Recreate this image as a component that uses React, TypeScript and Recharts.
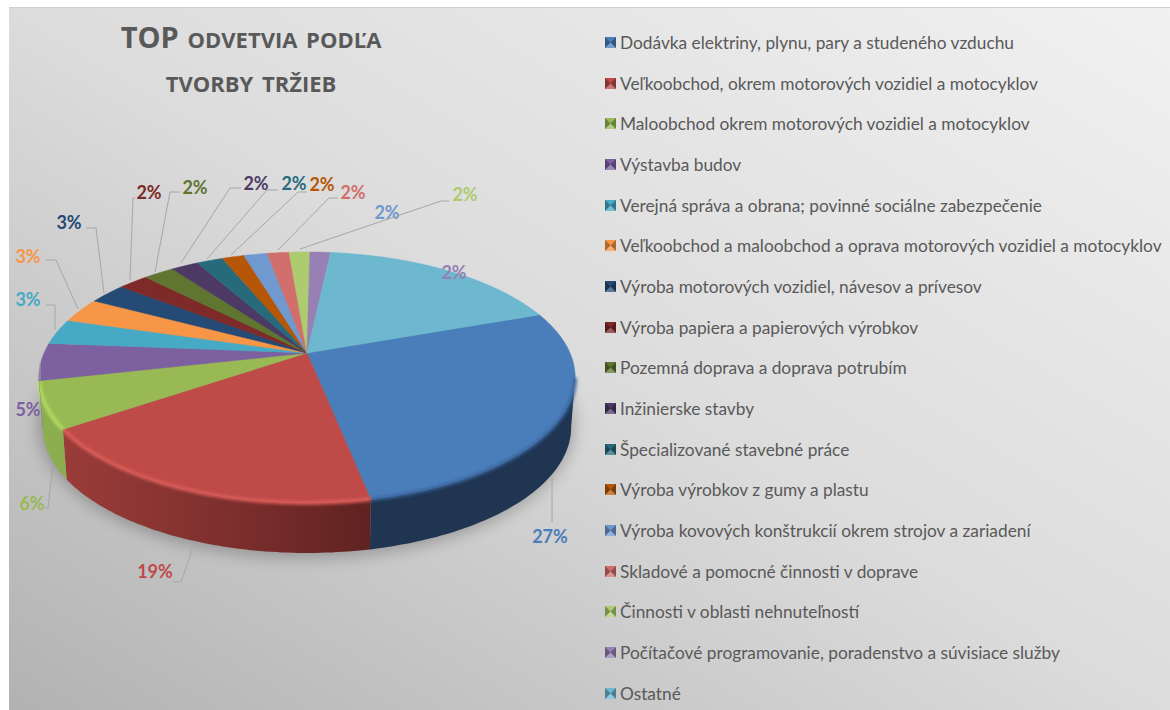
import { PieChart, Pie, Legend } from "recharts";

const categories = [
  "Dodávka elektriny, plynu, pary a studeného vzduchu",
  "Veľkoobchod, okrem motorových vozidiel a motocyklov",
  "Maloobchod okrem motorových vozidiel a motocyklov",
  "Výstavba budov",
  "Verejná správa a obrana; povinné sociálne zabezpečenie",
  "Veľkoobchod a maloobchod a oprava motorových vozidiel a motocyklov",
  "Výroba motorových vozidiel, návesov a prívesov",
  "Výroba papiera a papierových výrobkov",
  "Pozemná doprava a doprava potrubím",
  "Inžinierske stavby",
  "Špecializované stavebné práce",
  "Výroba výrobkov z gumy a plastu",
  "Výroba kovových konštrukcií okrem strojov a zariadení",
  "Skladové a pomocné činnosti v doprave",
  "Činnosti v oblasti nehnuteľností",
  "Počítačové programovanie, poradenstvo a súvisiace služby",
  "Ostatné",
];
// share of the revenue
const shares = [27.3, 18.6, 6.0, 4.8, 3.3, 3.2, 2.7, 2.2, 2.2, 2.0, 1.9, 1.6, 1.7, 1.6, 1.5, 1.5, 17.8];
const percentLabels = ["27%", "19%", "6%", "5%", "3%", "3%", "3%", "2%", "2%", "2%", "2%", "2%", "2%", "2%", "2%", "2%", ""];

const colors = [
  "#4a7ebb", "#be4b48", "#98b954", "#7d60a0", "#46aac5", "#f79646",
  "#254a75", "#7d2a28", "#5f7530", "#4c3a64", "#276a7c", "#b65708",
  "#6f99cf", "#d16f6c", "#aecb6f", "#9680b4", "#6db8cf",
];
const wallColors = ["#1f3552", "#7a2f2d", "#8cae4e", "#5c4676"];
const rimColors = ["#3a659c", "#e0605c", "#b6e265", "#8a6bb0"];

// label centre + leader line, hand placed like in the original
const labelSpots: { at: number[]; line?: number[][] }[] = [
  { at: [550, 536], line: [[552, 477], [552, 522]] },
  { at: [155, 571], line: [[192, 550], [181, 582], [172, 582]] },
  { at: [32, 503], line: [[53, 465], [48, 508], [45, 508]] },
  { at: [28, 409], line: [[40, 362], [40, 380]] },
  { at: [28, 299], line: [[46, 305], [55, 305], [55, 330]] },
  { at: [28, 256], line: [[46, 260], [56, 260], [78, 309]] },
  { at: [69, 222], line: [[86, 228], [96, 228], [104, 293]] },
  { at: [149, 192], line: [[135, 198], [133, 198], [130, 280]] },
  { at: [195, 187], line: [[180, 192], [170, 192], [155, 272]] },
  { at: [256, 183], line: [[241, 188], [230, 188], [181, 263]] },
  { at: [294, 183], line: [[278, 190], [267, 190], [207, 259]] },
  { at: [322, 184], line: [[307, 192], [298, 192], [231, 255]] },
  { at: [387, 212] },
  { at: [353, 192], line: [[338, 198], [329, 198], [278, 250]] },
  { at: [465, 194], line: [[449, 201], [441, 201], [300, 249]] },
  { at: [454, 272] },
  { at: [0, 0] },
];

const pieData = categories.map((name, i) => ({
  name,
  value: shares[i],
  fill: colors[i],
  idx: i,
}));

const FONT = "Lato, 'Open Sans', sans-serif";
const SQUASH = 0.459;
const TILT = 0.195;
const DEPTH = 50;
const RAD = Math.PI / 180;

// circle -> tilted disc, apex stays at cx,cy
function project(cx: number, cy: number, r: number, deg: number, scale = 1, drop = 0) {
  const X = Math.cos(deg * RAD);
  const Y = Math.sin(deg * RAD);
  const w = 1 + TILT * Y;
  return [cx + (r * scale * X) / w, cy - (r * SQUASH * Y) / w + drop];
}

function arcPoints(cx: number, cy: number, r: number, from: number, to: number, scale = 1, drop = 0) {
  const pts: number[][] = [];
  const n = Math.max(2, Math.ceil(Math.abs(from - to)));
  for (let i = 0; i <= n; i++) pts.push(project(cx, cy, r, from + ((to - from) * i) / n, scale, drop));
  return pts;
}

const toPath = (pts: number[][]) => pts.map((p, i) => `${i ? "L" : "M"}${p[0].toFixed(1)},${p[1].toFixed(1)}`).join(" ");

function Slice3D(props: any) {
  const { cx, cy, outerRadius, startAngle, endAngle, fill, payload } = props;
  const i = payload?.idx ?? props.idx ?? 0;
  const top = arcPoints(cx, cy, outerRadius, startAngle, endAngle);
  // only the front of the disc shows a wall
  const from = Math.min(startAngle, -11.2);
  const to = Math.max(endAngle, -168.8);
  const hasWall = from > to;
  let wall = "";
  let rim = "";
  if (hasWall) {
    const upper = arcPoints(cx, cy, outerRadius, from, to);
    const lower = arcPoints(cx, cy, outerRadius, to, from, 0.985, DEPTH);
    wall = toPath([...upper, ...lower]) + " Z";
    rim = toPath(upper);
  }
  return (
    <g>
      {hasWall && <path d={wall} fill={i === 1 ? "url(#redWall)" : wallColors[i] ?? fill} />}
      <path d={`M${cx},${cy} ${toPath(top).replace("M", "L")} Z`} fill={fill} stroke={fill} strokeWidth={0.5} />
      {hasWall && (
        <path d={rim} fill="none" stroke={rimColors[i] ?? fill} strokeWidth={4} filter="url(#soft)" opacity={0.85} />
      )}
    </g>
  );
}

function PercentLabel(props: any) {
  const i = props.index;
  const spot = labelSpots[i];
  if (!percentLabels[i]) return null;
  return (
    <g>
      {spot.line && (
        <path d={toPath(spot.line)} fill="none" stroke="#a6a6a6" strokeWidth={1} />
      )}
      <text
        x={spot.at[0]}
        y={spot.at[1]}
        textAnchor="middle"
        dominantBaseline="central"
        fontFamily={FONT}
        fontSize={18}
        fontWeight={700}
        fill={colors[i]}
      >
        {percentLabels[i]}
      </text>
    </g>
  );
}

function LegendList({ payload }: any) {
  return (
    <div>
      {(payload ?? []).map((item: any) => (
        <div
          key={item.value}
          style={{ height: 40.7, display: "flex", alignItems: "center", whiteSpace: "nowrap" }}
        >
          <svg width={11} height={11} style={{ marginRight: 4, flex: "none" }}>
            <rect width={11} height={11} fill={item.color} />
            <path d="M0,0 L5.5,5.5 L0,11 Z" fill="#000" opacity={0.3} />
            <path d="M11,0 L5.5,5.5 L11,11 Z" fill="#000" opacity={0.3} />
            <path d="M0,11 L5.5,5.5 L11,11 Z" fill="#fff" opacity={0.25} />
          </svg>
          <span style={{ fontFamily: FONT, fontSize: 17.3, color: "#595959" }}>{item.value}</span>
        </div>
      ))}
    </div>
  );
}

export default function App() {
  return (
    <div style={{ position: "absolute", left: 0, top: 0, width: 1170, height: 710, background: "#fff", overflow: "hidden" }}>
      <div
        style={{
          position: "absolute",
          left: 9,
          top: 7,
          width: 1161,
          height: 703,
          borderTop: "1px solid #d0d0d0",
          boxSizing: "border-box",
          background: "linear-gradient(to top right, #b2b2b2 0%, #dcdcdc 50%, #f1f1f1 100%)",
        }}
      />
      <div
        style={{
          position: "absolute",
          left: 60,
          top: 17,
          width: 382,
          textAlign: "center",
          fontFamily: "'Open Sans', sans-serif",
          fontWeight: 700,
          color: "#595959",
          fontSize: 22,
          lineHeight: "44px",
          wordSpacing: 3,
        }}
      >
        <span style={{ fontSize: 29, lineHeight: "20px" }}>TOP</span> ODVETVIA PODĽA
        <br />
        TVORBY TRŽIEB
      </div>
      <div style={{ position: "absolute", left: 0, top: 0 }}>
        <PieChart width={1170} height={710} margin={{ top: 0, right: 0, bottom: 0, left: 0 }}>
          <defs>
            <linearGradient id="redWall" x1="0" y1="0" x2="1" y2="0">
              <stop offset="0%" stopColor="#9a3c39" />
              <stop offset="55%" stopColor="#7c2f2d" />
              <stop offset="100%" stopColor="#5f2220" />
            </linearGradient>
            <filter id="soft" x="-20%" y="-20%" width="140%" height="140%">
              <feGaussianBlur stdDeviation="1.6" />
            </filter>
            <filter id="shadow" x="-20%" y="-20%" width="140%" height="140%">
              <feGaussianBlur stdDeviation="8" />
            </filter>
          </defs>
          <ellipse cx={306} cy={424} rx={268} ry={134} fill="#000" opacity={0.25} filter="url(#shadow)" />
          <Pie
            data={pieData}
            dataKey="value"
            nameKey="name"
            cx={307}
            cy={353}
            outerRadius={263}
            startAngle={19.7}
            endAngle={-340.3}
            paddingAngle={0}
            stroke="none"
            shape={Slice3D}
            label={PercentLabel}
            labelLine={false}
            isAnimationActive={false}
          />
          <Legend
            content={LegendList}
            itemSorter={null}
            layout="vertical"
            wrapperStyle={{ position: "absolute", left: 605, top: 22, width: 565, height: 700 }}
          />
        </PieChart>
      </div>
    </div>
  );
}
